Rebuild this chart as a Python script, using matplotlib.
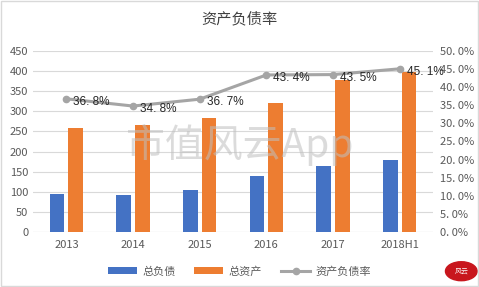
import matplotlib.pyplot as plt
import numpy as np
from matplotlib.patches import Circle, Rectangle

plt.rcParams['font.family'] = ['Noto Sans CJK SC', 'DejaVu Sans']

years = ['2013', '2014', '2015', '2016', '2017', '2018H1']
debt = [94, 92, 104, 139, 164, 180]
assets = [258, 265, 284, 320, 377, 399]
ratio = [36.8, 34.8, 36.7, 43.4, 43.5, 45.1]

blue = '#4472C4'
orange = '#ED7D31'
grey = '#A5A5A5'
txt = '#595959'

fig = plt.figure(figsize=(4.79, 2.87), dpi=100)
ax = fig.add_axes([0.069, 0.192, 0.835, 0.63])
x = np.arange(len(years))
b1 = ax.bar(x - 0.14, debt, 0.22, color=blue, zorder=2)
b2 = ax.bar(x + 0.14, assets, 0.22, color=orange, zorder=2)
ax.set_ylim(0, 450)
ax.set_yticks(range(0, 451, 50))
ax.set_xlim(-0.5, 5.5)
ax.set_xticks(x)
ax.set_xticklabels(years)
ax.grid(axis='y', color='#D9D9D9', linewidth=0.8, zorder=0)
for s in ax.spines.values():
    s.set_visible(False)
ax.axhline(0, color='#D9D9D9', linewidth=0.8, zorder=1)
ax.tick_params(length=0, labelsize=8, colors=txt)
ax.tick_params(axis='x', pad=6)

ax2 = ax.twinx()
ln, = ax2.plot(x, ratio, color=grey, linewidth=2.2, marker='o', markersize=4.5, zorder=3)
ax2.set_ylim(0, 50)
ax2.set_yticks(np.arange(0, 50.1, 5))
ax2.set_yticklabels([f'{v:.1f}%'.replace('.', '. ') for v in np.arange(0, 50.1, 5)])
for s in ax2.spines.values():
    s.set_visible(False)
ax2.tick_params(length=0, labelsize=8, colors=txt, pad=5)
for xi, r in zip(x, ratio):
    ax2.annotate(f'{r:.1f}%'.replace('.', '. '), (xi, r), xytext=(5, -4.5),
                 textcoords='offset points', fontsize=8.5, color='#262626',
                 family=['Liberation Sans'])

fig.text(0.5, 0.935, '资产负债率', ha='center', va='center', fontsize=11, color='#404040')
fig.text(0.5, 0.495, '市值风云App', ha='center', va='center', fontsize=28,
         color='#BFBFBF', alpha=0.55, zorder=5)

leg = fig.legend([b1, b2, ln], ['总负债', '总资产', '资产负债率'], loc='center',
                 bbox_to_anchor=(0.5, 0.055), ncol=3, frameon=False, fontsize=8,
                 handlelength=2.6, columnspacing=1.7, handletextpad=0.5)
for t in leg.get_texts():
    t.set_color(txt)

# logo
logo = Circle((0.963, 0.055), 0.033, transform=fig.transFigure, color='#C8161D',
              ec='#C8161D')
fig.patches.append(logo)
fig.text(0.963, 0.055, '风云', ha='center', va='center', fontsize=5, color='white')

border = Rectangle((0.002, 0.002), 0.995, 0.995, transform=fig.transFigure,
                   fill=False, ec='#D9D9D9', lw=1)
fig.patches.append(border)

fig.savefig('out.png', dpi=100)
